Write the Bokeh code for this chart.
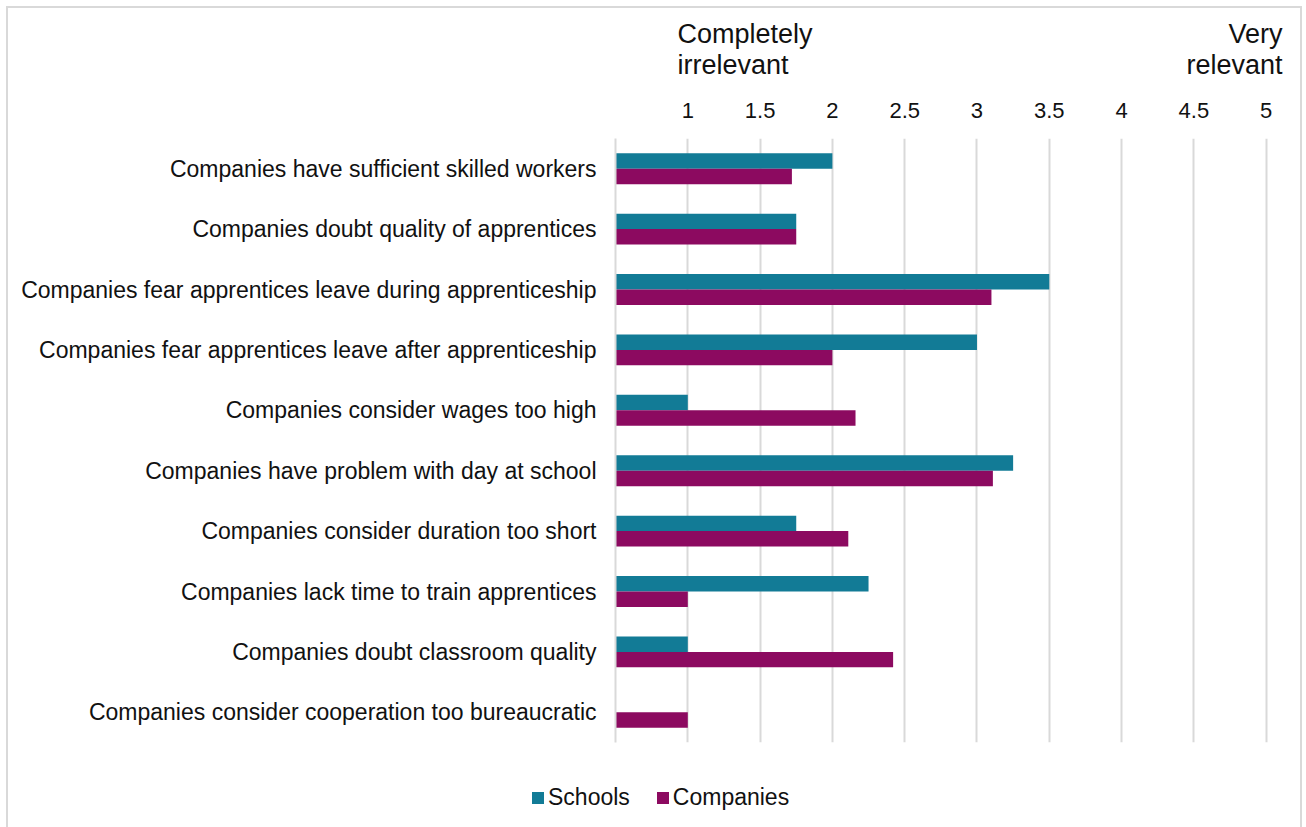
from bokeh.plotting import figure
from bokeh.layouts import column
from bokeh.models import (ColumnDataSource, FactorRange, Range1d, FixedTicker,
                          NumeralTickFormatter, Label, Legend, LegendItem)
from bokeh.transform import dodge
from bokeh.embed import file_html
from bokeh.resources import INLINE

categories = [
    "Companies have sufficient skilled workers",
    "Companies doubt quality of apprentices",
    "Companies fear apprentices leave during apprenticeship",
    "Companies fear apprentices leave after apprenticeship",
    "Companies consider wages too high",
    "Companies have problem with day at school",
    "Companies consider duration too short",
    "Companies lack time to train apprentices",
    "Companies doubt classroom quality",
    "Companies consider cooperation too bureaucratic",
]
schools = [2.0, 1.75, 3.5, 3.0, 1.0, 3.25, 1.75, 2.25, 1.0, float("nan")]
companies = [1.72, 1.75, 3.10, 2.0, 2.16, 3.11, 2.11, 1.0, 2.42, 1.0]
ticks = [1, 1.5, 2, 2.5, 3, 3.5, 4, 4.5, 5]
scale_min_label = ["Completely", "irrelevant"]
scale_max_label = ["Very", "relevant"]
series_names = ["Schools", "Companies"]

TEAL = "#127b96"
PURPLE = "#8c0a60"
GRID = "#d9d9d9"
FONT = "Liberation Sans"
TXT = "#111111"
W = 1292

# ---------- header (scale end labels) ----------
HH = 80
h = figure(width=W, height=HH, output_backend="svg", toolbar_location=None,
           x_range=Range1d(0, W), y_range=Range1d(0, HH),
           x_axis_location=None, y_axis_location=None, frame_align=False,
           min_border_left=0, min_border_right=0, min_border_top=0, min_border_bottom=0)
h.outline_line_color = None
h.xgrid.visible = False
h.ygrid.visible = False
for i, t in enumerate(scale_min_label):
    h.add_layout(Label(x=669, y=55 - 31 * i, x_units="screen", y_units="screen",
                       text=t, text_font=FONT, text_font_size="27px",
                       text_color=TXT, text_align="left", text_baseline="alphabetic"))
for i, t in enumerate(scale_max_label):
    h.add_layout(Label(x=1274, y=55 - 31 * i, x_units="screen", y_units="screen",
                       text=t, text_font=FONT, text_font_size="27px",
                       text_color=TXT, text_align="right", text_baseline="alphabetic"))

# ---------- main chart ----------
src = ColumnDataSource(dict(cat=categories, schools=schools, companies=companies,
                            base=[0.5] * len(categories)))

p = figure(width=W, height=672, output_backend="svg", toolbar_location=None,
           y_range=FactorRange(factors=list(reversed(categories))),
           x_range=Range1d(0.5, 5.03), x_axis_location="above", frame_align=False,
           min_border_left=607, min_border_right=30,
           min_border_top=50, min_border_bottom=18)
p.outline_line_color = None

r1 = p.hbar(y=dodge("cat", 0.128, range=p.y_range), left="base", right="schools",
            height=0.256, source=src, fill_color=TEAL, line_color=None)
r2 = p.hbar(y=dodge("cat", -0.128, range=p.y_range), left="base", right="companies",
            height=0.256, source=src, fill_color=PURPLE, line_color=None)

xa = p.xaxis[0]
xa.ticker = FixedTicker(ticks=ticks)
xa.formatter = NumeralTickFormatter(format="0.[0]")
xa.axis_line_color = None
xa.major_tick_line_color = None
xa.minor_tick_line_color = None
xa.major_label_text_font = FONT
xa.major_label_text_font_size = "22px"
xa.major_label_text_color = TXT
xa.major_label_standoff = 15

ya = p.yaxis[0]
ya.axis_line_color = GRID
ya.axis_line_width = 2
ya.major_tick_line_color = None
ya.minor_tick_line_color = None
ya.major_label_text_font = FONT
ya.major_label_text_font_size = "23px"
ya.major_label_text_color = TXT
ya.major_label_standoff = 13

p.xgrid.ticker = FixedTicker(ticks=ticks)
p.xgrid.grid_line_color = GRID
p.xgrid.grid_line_width = 2
p.ygrid.grid_line_color = None

# ---------- footer (legend) ----------
# legend proxies reuse the same data; the footer's x range keeps them out of view
f = figure(width=W, height=67, output_backend="svg", toolbar_location=None,
           x_range=Range1d(-3, -2), y_range=Range1d(0, 1),
           x_axis_location=None, y_axis_location=None, frame_align=False,
           min_border_left=0, min_border_right=0, min_border_top=0, min_border_bottom=0)
f.outline_line_color = None
f.xgrid.visible = False
f.ygrid.visible = False
l1 = f.hbar(y="base", left="base", right="schools", height=0.1, source=src,
            fill_color=TEAL, line_color=None)
l2 = f.hbar(y="base", left="base", right="companies", height=0.1, source=src,
            fill_color=PURPLE, line_color=None)
legend = Legend(items=[LegendItem(label=series_names[0], renderers=[l1]),
                       LegendItem(label=series_names[1], renderers=[l2])],
                location=(522, 16), orientation="horizontal",
                glyph_width=15, glyph_height=15, label_standoff=3, spacing=25,
                padding=0, margin=0, border_line_color=None,
                background_fill_alpha=0,
                label_text_font=FONT, label_text_font_size="23px",
                label_text_color=TXT)
f.add_layout(legend, "center")

layout = column(h, p, f, spacing=0, margin=(6, 0, 0, 6))
layout.styles = {"border-top": "2px solid #d9d9d9", "border-left": "2px solid #d9d9d9",
                 "border-right": "2px solid #d9d9d9"}

open("out.html", "w").write(file_html(layout, INLINE))
